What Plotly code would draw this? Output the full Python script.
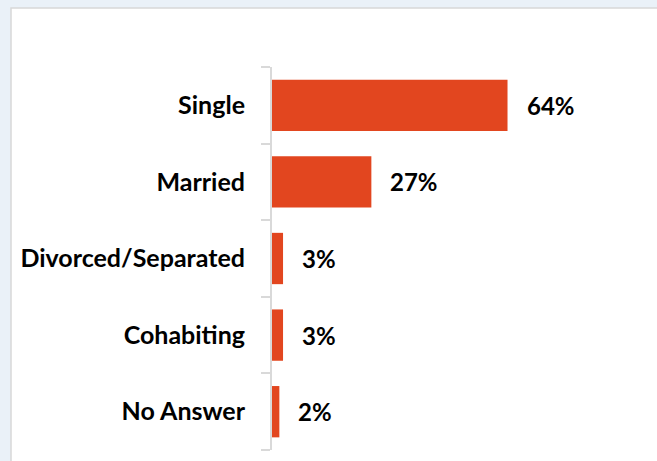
import plotly.graph_objects as go

# Marital status distribution (percent of respondents)
categories = ["Single", "Married", "Divorced/Separated", "Cohabiting", "No Answer"]
percent = [64, 27, 3, 3, 2]
labels = [f"{v}%" for v in percent]

W, H = 657, 461
L, R, T, B = 272, 17, 67, 11
plot_w = W - L - R
plot_h = H - T - B

bar_color = "#E2461F"
font_family = "Lato, 'Open Sans', sans-serif"
font_size = 24

fig = go.Figure()
fig.add_trace(go.Bar(
    x=percent,
    y=categories,
    orientation="h",
    marker=dict(color=bar_color, line=dict(width=0)),
    hoverinfo="skip",
))

# Value labels placed just past the bar ends
for cat, val, txt in zip(categories, percent, labels):
    fig.add_annotation(
        x=val, y=cat, text=f"<b>{txt}</b>", showarrow=False,
        xanchor="left", yanchor="middle", xshift=17,
        font=dict(family=font_family, size=font_size, color="#000000"),
    )

# White panel with thin grey frame over the light backdrop
px = lambda p: (p - L) / plot_w
py = lambda p: (H - B - p) / plot_h
fig.add_shape(
    type="rect", xref="paper", yref="paper", layer="below",
    x0=px(11), x1=px(W + 20), y0=py(8), y1=py(H + 20),
    fillcolor="#FFFFFF", line=dict(color="#D8D8D8", width=1.5),
)

fig.update_layout(
    width=W, height=H,
    margin=dict(l=L, r=R, t=T, b=B),
    paper_bgcolor="#EAF1F8",
    plot_bgcolor="rgba(0,0,0,0)",
    bargap=0.33,
    showlegend=False,
    font=dict(family=font_family, size=font_size, color="#000000"),
    xaxis=dict(range=[0, 100], visible=False, fixedrange=True),
    yaxis=dict(
        categoryorder="array", categoryarray=categories[::-1],
        showline=True, linecolor="#D9D9D9", linewidth=2,
        ticks="outside", tickson="boundaries", ticklen=9,
        tickcolor="#D9D9D9", tickwidth=2,
        ticklabelstandoff=20,
        tickfont=dict(family=font_family, size=25, color="#000000"),
        showgrid=False, zeroline=False, fixedrange=True,
    ),
)
fig.update_yaxes(ticktext=[f"<b>{c}</b>" for c in categories[::-1]],
                 tickvals=categories[::-1])

fig.write_html("out.html")
